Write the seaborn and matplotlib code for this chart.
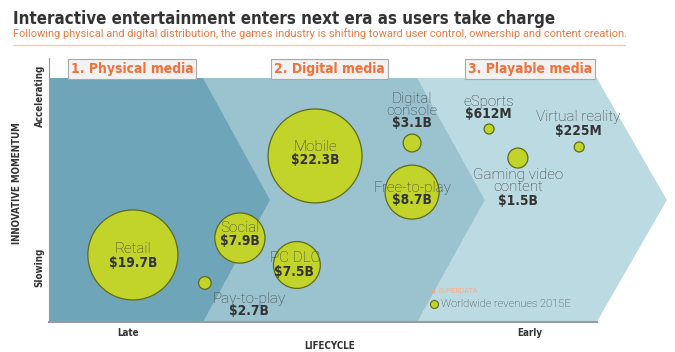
import numpy as np
import pandas as pd
import seaborn as sns
import matplotlib.pyplot as plt

# ---------------------------------------------------------------- data
segments    = ["Retail", "Pay-to-play", "Social", "PC DLC", "Mobile",
               "Digital\nconsole", "Free-to-play", "eSports",
               "Gaming video\ncontent", "Virtual reality"]
revenues    = ["$19.7B", "$2.7B", "$7.9B", "$7.5B", "$22.3B",
               "$3.1B", "$8.7B", "$612M", "$1.5B", "$225M"]
lifecycle   = [13.4, 24.9, 30.5, 39.6, 42.5, 58.0, 58.0, 70.3, 74.9, 84.7]
momentum    = [25.4, 14.8, 31.8, 21.6, 62.9, 67.8, 49.2, 73.1, 62.1, 66.3]
bubble_size = [20.3, 0.4, 6.3, 5.5, 22.1, 0.8, 7.3, 0.25, 1.0, 0.25]

stages      = ["1. Physical media", "2. Digital media", "3. Playable media"]
stage_x     = [13.3, 44.8, 76.8]

x_ticks     = ["Late", "Early"]
y_ticks     = ["Slowing", "Accelerating"]

df = pd.DataFrame({"segment": segments, "revenue": revenues,
                   "lifecycle": lifecycle, "momentum": momentum,
                   "size": bubble_size})

# ---------------------------------------------------------------- style
DARK_BG   = "#6fa5b8"
MID_BG    = "#9ac3cf"
LIGHT_BG  = "#bcdae2"
BUBBLE    = "#c2d42a"
BUB_EDGE  = "#5c6b1a"
ORANGE    = "#f2703a"
TEXT_DARK = "#333333"
TEXT_NAME = "#3c3c3c"

NARROW = ["DejaVu Sans"]
LIGHT  = ["Roboto", "DejaVu Sans"]

# label offsets in pixels (name, value) relative to the bubble centre
label_off = {
    "Retail":               ((0, 6),    (0, -8)),
    "Pay-to-play":          ((44, -16), (44, -28)),
    "Social":               ((0, 10),   (0, -3)),
    "PC DLC":               ((-2, 7),   (-3, -7)),
    "Mobile":               ((0, 9),    (0, -4)),
    "Digital\nconsole":     ((0, 38),   (0, 20)),
    "Free-to-play":         ((0, 4),    (0, -8)),
    "eSports":              ((0, 27),   (-1, 15)),
    "Gaming video\ncontent": ((0, -23), (0, -43)),
    "Virtual reality":      ((-1, 30),  (-1, 16)),
}

sns.set_theme(style="white")
plt.rcParams["font.family"] = NARROW
plt.rcParams["font.stretch"] = "condensed"

fig = plt.figure(figsize=(6.75, 3.52), dpi=100)
ax = fig.add_axes([49 / 675, 30 / 352, 626 / 675, 264 / 352])
ax.set_xlim(0, 100)
ax.set_ylim(0, 100)

# chevron background bands (light -> mid -> dark)
top, mid, bot = 92.4, 46.2, 0
for edge, tip, col in [(87.5, 98.7, LIGHT_BG), (58.8, 69.6, MID_BG), (24.6, 35.3, DARK_BG)]:
    ax.fill([0, edge, tip, edge, 0], [top, top, mid, bot, bot], color=col, lw=0, zorder=0)

# bubbles
max_s = 2.07 * 47 ** 2
sns.scatterplot(data=df, x="lifecycle", y="momentum", size="size",
                sizes=(0, max_s), size_norm=(0, max(bubble_size)),
                color=BUBBLE, edgecolor=BUB_EDGE, linewidth=0.9,
                alpha=1, legend=False, ax=ax, zorder=3)

for _, row in df.iterrows():
    (nx, ny), (vx, vy) = label_off[row["segment"]]
    ax.annotate(row["segment"], (row["lifecycle"], row["momentum"]), xytext=(nx, ny),
                textcoords="offset pixels", ha="center", va="center", fontsize=11,
                family=LIGHT, fontweight="light", fontstretch="normal", color=TEXT_NAME,
                linespacing=0.85, zorder=4)
    ax.annotate(row["revenue"], (row["lifecycle"], row["momentum"]), xytext=(vx, vy),
                textcoords="offset pixels", ha="center", va="center", fontsize=9.8,
                fontweight="bold", color=TEXT_DARK, zorder=4)

# stage headers
for name, sx in zip(stages, stage_x):
    ax.text(sx, 95.8, name, ha="center", va="center", fontsize=10, fontweight="bold",
            color=ORANGE, zorder=5,
            bbox=dict(boxstyle="square,pad=0.2", fc="#f2f2f2", ec="#a8a8a8", lw=0.8))

# source / legend
ax.text(61.3, 11.4, "\u2605", color="#f4a582", fontsize=6, ha="center", va="center")
ax.text(62.2, 11.4, "SUPERDATA", color="#f4b08e", fontsize=5, family=LIGHT,
        fontstretch="normal", va="center")
ax.scatter([61.5], [7.0], s=2.07 * 16, color=BUBBLE, edgecolor=BUB_EDGE, lw=0.8, zorder=4)
ax.text(62.6, 6.8, "Worldwide revenues 2015E", color=TEXT_NAME, fontsize=8,
        family=LIGHT, fontweight="light", fontstretch="normal", va="center")

# axes
for s in ["top", "right"]:
    ax.spines[s].set_visible(False)
ax.spines["left"].set_color("#9a9a9a")
ax.spines["left"].set_linewidth(0.8)
ax.spines["bottom"].set_color("#9a9a9a")
ax.spines["bottom"].set_linewidth(1.5)
ax.spines["bottom"].set_bounds(0, 87.5)

ax.set_xticks([12.6, 76.8], labels=x_ticks)
ax.set_yticks([20.8, 85.6], labels=y_ticks)
ax.tick_params(axis="both", length=0, labelsize=7, colors=TEXT_DARK)
ax.tick_params(axis="x", pad=4)
ax.tick_params(axis="y", pad=3)
for lbl in ax.get_xticklabels() + ax.get_yticklabels():
    lbl.set_fontweight("bold")
for lbl in ax.get_yticklabels():
    lbl.set_rotation(90)
    lbl.set_va("center")

ax.set_xlabel("LIFECYCLE", fontsize=7, fontweight="bold", color=TEXT_DARK)
ax.set_ylabel("INNOVATIVE MOMENTUM", fontsize=7, fontweight="bold", color=TEXT_DARK)
ax.xaxis.set_label_coords(0.449, -0.072)
ax.yaxis.set_label_coords(-0.043, 0.527)

# title block
fig.text(13 / 675, 1 - 19 / 352, "Interactive entertainment enters next era as users take charge",
         fontsize=12.2, fontweight="bold", color=TEXT_DARK, va="center")
fig.text(13 / 675, 1 - 34 / 352,
         "Following physical and digital distribution, the games industry is shifting toward "
         "user control, ownership and content creation.",
         fontsize=7.9, color="#ee7a42", family=LIGHT, fontstretch="normal", va="center")
fig.add_artist(plt.Line2D([13 / 675, 625 / 675], [1 - 45 / 352] * 2, color="#f3cdb0", lw=1))

fig.savefig("out.png", dpi=100)
